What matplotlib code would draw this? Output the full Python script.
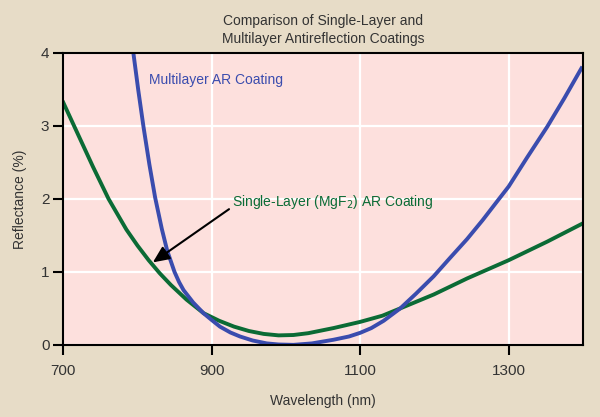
import matplotlib
matplotlib.use('Agg')
import matplotlib.pyplot as plt

# Readings from the reference chart (wavelength in nm, reflectance in %)
multi_wl = [794.4, 801, 808, 816, 823.7, 832.7, 840, 849.8, 856, 862, 875, 888.8, 900, 911,
            925, 938, 955, 974, 990, 1010, 1035, 1064, 1085, 1100, 1115, 1131.6, 1154,
            1175, 1199, 1220, 1244, 1265, 1287, 1300, 1325, 1352, 1375, 1398]
multi_r = [4.0, 3.49, 2.99, 2.47, 2.02, 1.59, 1.29, 1.0, 0.86, 0.75, 0.58, 0.434, 0.34, 0.25,
           0.17, 0.115, 0.06, 0.02, 0.005, 0.0, 0.02, 0.07, 0.115, 0.165, 0.23, 0.33, 0.5,
           0.70, 0.94, 1.18, 1.45, 1.71, 2.0, 2.17, 2.57, 2.99, 3.38, 3.79]

single_wl = [700, 720, 740, 761, 785, 800, 815, 830, 845, 866, 889, 910, 930, 950, 970,
             990, 1010, 1030, 1064, 1100, 1130, 1154, 1199, 1244, 1300, 1352, 1399]
single_r = [3.32, 2.88, 2.44, 2.0, 1.58, 1.36, 1.16, 0.98, 0.82, 0.62, 0.434, 0.33, 0.25, 0.19, 0.15,
            0.13, 0.135, 0.16, 0.23, 0.315, 0.40, 0.5, 0.69, 0.91, 1.16, 1.415, 1.66]

xticks = [700, 900, 1100, 1300]
yticks = [0, 1, 2, 3, 4]

bg = '#e7dcc7'
pink = '#fde0dd'
blue = '#3a4cae'
green = '#0b6b35'
txt = '#333333'

plt.rcParams['font.family'] = ['Liberation Sans', 'DejaVu Sans']

fig = plt.figure(figsize=(6, 4.17), dpi=100, facecolor=bg)
ax = fig.add_axes([0.1055, 0.173, 0.866, 0.700])
ax.set_facecolor(pink)

ax.grid(color='white', lw=1.6)
ax.set_axisbelow(True)

ax.plot(single_wl, single_r, color=green, lw=2.8, solid_joinstyle='round')
ax.plot(multi_wl, multi_r, color=blue, lw=2.8, solid_joinstyle='round')

ax.set_xlim(700, 1400)
ax.set_ylim(0, 4)
ax.set_xticks(xticks)
ax.set_yticks(yticks)
ax.tick_params(direction='out', length=7, width=1.5, colors='black',
               labelcolor=txt, labelsize=11)
ax.tick_params(axis='x', pad=7)
ax.tick_params(axis='y', pad=3)
for s in ax.spines.values():
    s.set_linewidth(1.5)
    s.set_color('black')

ax.set_xlabel('Wavelength (nm)', fontsize=10, color=txt, labelpad=11)
ax.set_ylabel('Reflectance (%)', fontsize=10, color=txt, labelpad=10)

fig.text(0.538, 0.928, 'Comparison of Single-Layer and\nMultilayer Antireflection Coatings',
         ha='center', va='center', fontsize=10, color=txt, linespacing=1.38)

ax.text(816, 3.63, 'Multilayer AR Coating', color=blue, fontsize=10, va='center')
ax.annotate('Single-Layer (MgF$_2$) AR Coating', xy=(820.6, 1.13), xytext=(927, 1.96),
            color=green, fontsize=10, va='center',
            arrowprops=dict(arrowstyle='-|>,head_length=1.0,head_width=0.45',
                            color='black', lw=1.5, shrinkA=0, shrinkB=0,
                            relpos=(0, 0.2)))

fig.savefig('out.png', dpi=100, facecolor=bg)
